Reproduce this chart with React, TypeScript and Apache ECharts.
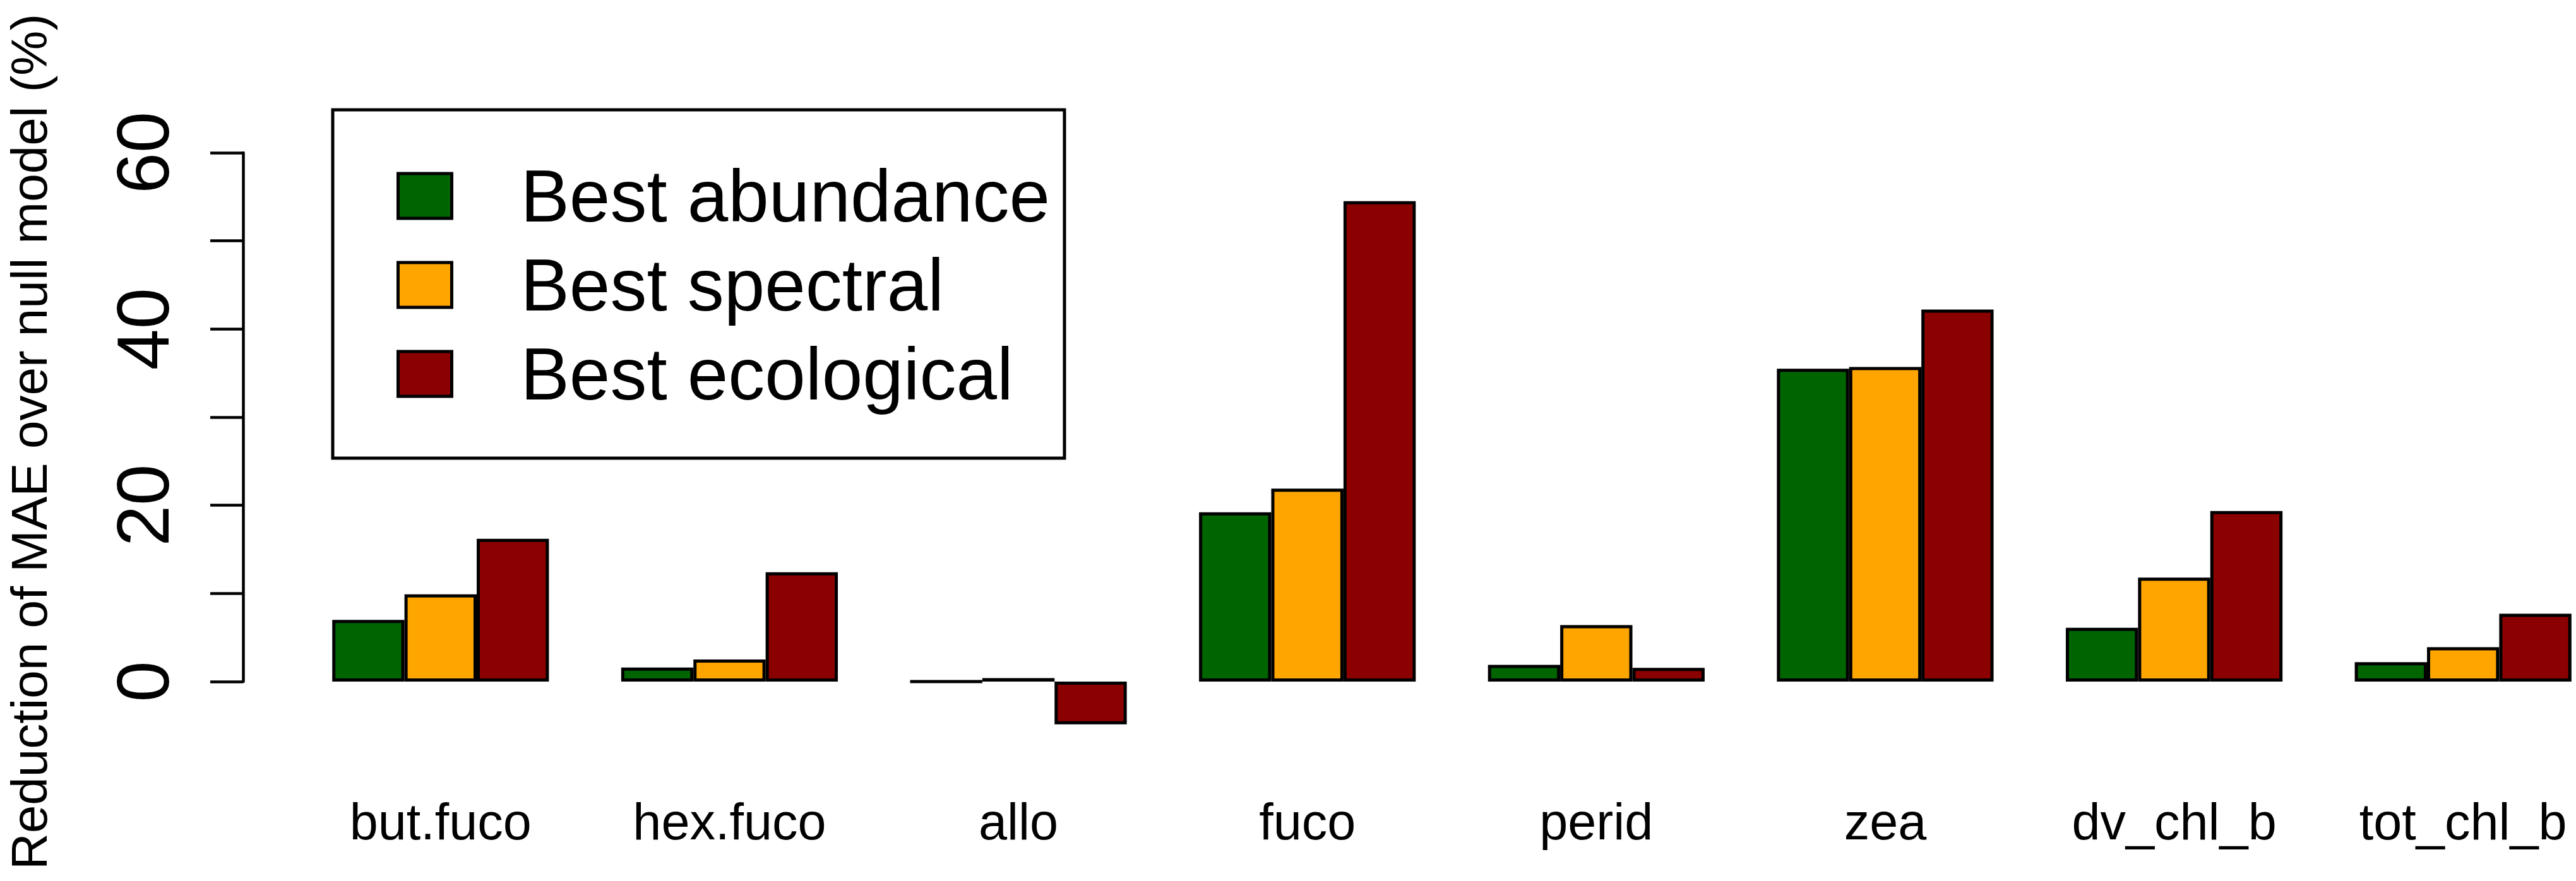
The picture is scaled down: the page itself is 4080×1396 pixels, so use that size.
import React, { useEffect, useRef } from 'react';
import * as echarts from 'echarts';

const categories = ['but.fuco', 'hex.fuco', 'allo', 'fuco', 'perid', 'zea', 'dv_chl_b', 'tot_chl_b'];
const bestAbundance = [7.0, 1.6, 0.0, 19.2, 1.9, 35.5, 6.1, 2.2];
const bestSpectral = [9.9, 2.5, 0.4, 21.9, 6.4, 35.7, 11.8, 3.9];
const bestEcological = [16.2, 12.4, -4.85, 54.5, 1.55, 42.2, 19.35, 7.7];
const seriesNames = ['Best abundance', 'Best spectral', 'Best ecological'];
const seriesColors = ['#006400', '#FFA500', '#8B0000'];
const yLabelValues = [0, 20, 40, 60];
const yTitle = 'Reduction of MAE over null model (%)';

const FONT = '"Liberation Sans", Arial, Helvetica, sans-serif';

export default function App() {
  const ref = useRef<HTMLDivElement>(null);
  useEffect(() => {
    const chart = echarts.init(ref.current as HTMLDivElement, null, { renderer: 'svg' });
    const seriesData = [bestAbundance, bestSpectral, bestEcological];
    chart.setOption({
      animation: false,
      backgroundColor: '#ffffff',
      textStyle: { fontFamily: FONT, color: '#000' },
      grid: { left: 469, right: -50, top: 242, bottom: 316, containLabel: false, outerBoundsMode: 'none' },
      legend: {
        orient: 'vertical',
        left: 527,
        top: 174,
        padding: [66, 23, 63, 101],
        itemGap: 0,
        itemWidth: 85,
        itemHeight: 71,
        icon: 'rect',
        borderColor: '#000',
        borderWidth: 5,
        borderRadius: 0,
        selectedMode: false,
        itemStyle: { borderColor: '#000', borderWidth: 5 },
        textStyle: {
          fontSize: 116,
          fontFamily: FONT,
          color: '#000',
          lineHeight: 141,
          padding: [0, 0, 0, 104],
          backgroundColor: 'transparent',
        },
        data: seriesNames,
      },
      xAxis: {
        type: 'category',
        data: categories,
        axisLine: { show: false },
        axisTick: { show: false },
        splitLine: { show: false },
        axisLabel: {
          interval: 0,
          fontSize: 81,
          fontFamily: FONT,
          color: '#000',
          margin: 181,
          lineHeight: 81,
        },
      },
      yAxis: {
        type: 'value',
        min: 0,
        max: 60,
        interval: 10,
        offset: 84,
        axisLine: { show: true, lineStyle: { color: '#000', width: 4.5 } },
        axisTick: { show: true, length: 52, lineStyle: { color: '#000', width: 4.5 } },
        splitLine: { show: false },
        axisLabel: {
          rotate: 90,
          fontSize: 117,
          fontFamily: FONT,
          color: '#000',
          margin: 100,
          lineHeight: 117,
          formatter: (v: number) => (yLabelValues.includes(v) ? String(v) : ''),
        },
      },
      graphic: [
        {
          type: 'text',
          x: 46,
          y: 700,
          rotation: Math.PI / 2,
          style: {
            text: yTitle,
            fontSize: 80,
            fontFamily: FONT,
            fill: '#000',
            align: 'center',
            verticalAlign: 'middle',
            lineHeight: 80,
          },
        },
      ],
      series: seriesData.map((d, i) => ({
        name: seriesNames[i],
        type: 'bar',
        data: d,
        barWidth: 114.4,
        barGap: '0%',
        clip: false,
        itemStyle: { color: seriesColors[i], borderColor: '#000', borderWidth: 5 },
        emphasis: { disabled: true },
      })),
    });
    return () => chart.dispose();
  }, []);
  return (
    <div
      ref={ref}
      style={{ position: 'fixed', left: 0, top: 0, width: 4080, height: 1396, background: '#fff' }}
    />
  );
}
